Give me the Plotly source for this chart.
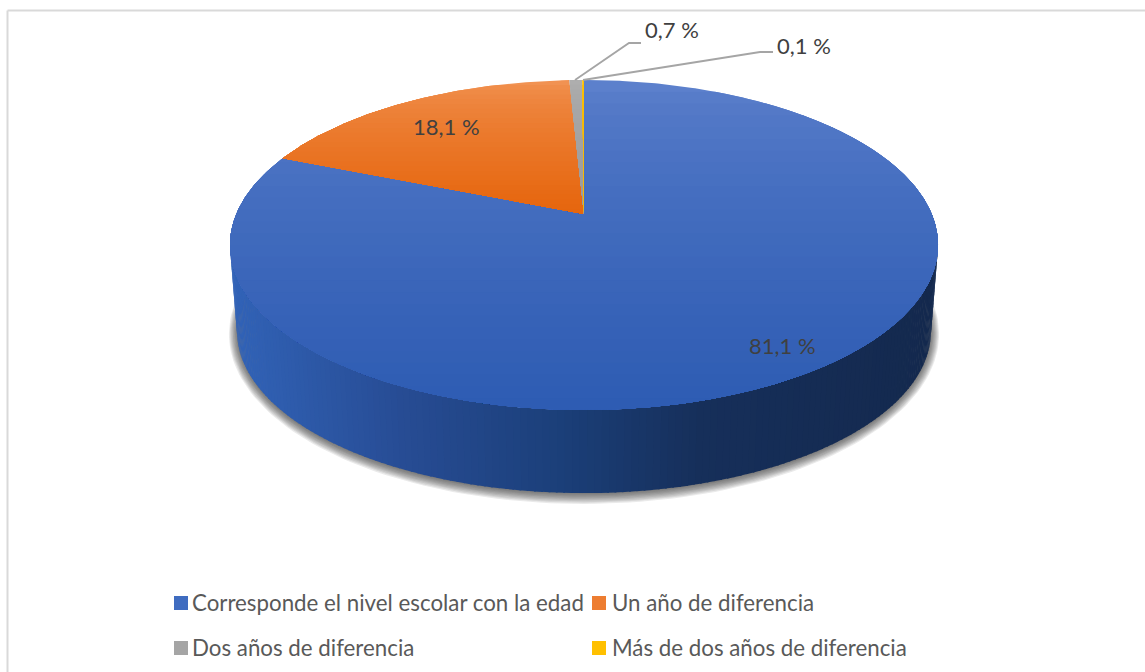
import math
import plotly.graph_objects as go

# ---- data ----
categories = ["Corresponde el nivel escolar con la edad", "Un año de diferencia",
              "Dos años de diferencia", "Más de dos años de diferencia"]
values = [81.1, 18.1, 0.7, 0.1]
top_colors = [(0x5C, 0x80, 0xCC), (0xF1, 0x92, 0x52), (0xAE, 0xAE, 0xAE), (0xFF, 0xC0, 0x00)]
bot_colors = [(0x2E, 0x5C, 0xB3), (0xE6, 0x66, 0x0E), (0x9A, 0x9A, 0x9A), (0xF5, 0xB8, 0x00)]
label_xy = [(782, 345), (446, 126), (672, 29), (804, 45)]
legend_xy = [(174, 603), (592, 603), (174, 648), (592, 648)]
legend_text_x = [190, 610, 190, 610]
legend_colors = ["#3F6CC0", "#ED7D31", "#A5A5A5", "#FFC000"]

# ---- projection of the pie disc to the page ----
CX, CY = 584.0, 214.0
A, B, K = 159.2, 347.7, 0.1878
DEPTH, BASE_S = 87.0, 0.98


def proj(theta, s=1.0, dy=0.0, t=0.0):
    u, v = math.sin(theta), math.cos(theta)
    d = 1 + K * v
    return CX + (B * s + t) * u / d, CY + dy - (A * s + t) * v / d


def clip_below(poly, y0):
    out = []
    n = len(poly)
    for i in range(n):
        p, q = poly[i], poly[(i + 1) % n]
        pin, qin = p[1] >= y0, q[1] >= y0
        if pin:
            out.append(p)
        if pin != qin:
            f = (y0 - p[1]) / (q[1] - p[1])
            out.append((p[0] + f * (q[0] - p[0]), y0))
    return out


def mix(c1, c2, f):
    return "rgb(%d,%d,%d)" % tuple(round(a + (b - a) * f) for a, b in zip(c1, c2))


def poly_trace(pts, color, opacity=1.0):
    xs = [p[0] for p in pts] + [pts[0][0]]
    ys = [p[1] for p in pts] + [pts[0][1]]
    return go.Scatter(x=xs, y=ys, mode="lines", fill="toself", fillcolor=color,
                      line=dict(width=0), opacity=opacity, hoverinfo="skip", showlegend=False)


fig = go.Figure()
total = sum(values)
two_pi = 2 * math.pi

# soft shadow under the base
for i in range(9):
    t = 8 - i
    pts = [proj(two_pi * j / 240, BASE_S, DEPTH + 1, t) for j in range(240)]
    fig.add_trace(poly_trace(pts, "#303030", 0.1))

# side wall, coloured across the page
side_stops = [(237, (0x31, 0x62, 0xB6)), (400, (0x27, 0x4C, 0x94)), (560, (0x1B, 0x3F, 0x79)),
              (700, (0x16, 0x2F, 0x5A)), (932, (0x14, 0x29, 0x4E))]


def side_color(x):
    for (x0, c0), (x1, c1) in zip(side_stops, side_stops[1:]):
        if x <= x1:
            return mix(c0, c1, max(0.0, (x - x0) / (x1 - x0)))
    return mix(side_stops[-1][1], side_stops[-1][1], 0)


start = 0.0
for val in values:
    end = start + val / total * two_pi
    n = max(2, int((end - start) / two_pi * 360))
    for j in range(n):
        a0 = start + (end - start) * j / n
        a1 = start + (end - start) * (j + 1.25) / n
        a1 = min(a1, end)
        if math.cos((a0 + a1) / 2) > 0.05:
            continue
        quad = [proj(a0), proj(a1), proj(a1, BASE_S, DEPTH), proj(a0, BASE_S, DEPTH)]
        fig.add_trace(poly_trace(quad, side_color((quad[0][0] + quad[1][0]) / 2)))
    start = end

# top face, one stack of clipped bands per slice
BANDS = 28
start = 0.0
for val, c1, c2 in zip(values, top_colors, bot_colors):
    end = start + val / total * two_pi
    n = max(6, int((end - start) / two_pi * 720))
    wedge = [(CX, CY)] + [proj(start + (end - start) * j / n) for j in range(n + 1)]
    ymin = min(p[1] for p in wedge)
    ymax = max(p[1] for p in wedge)
    for b in range(BANDS):
        y0 = ymin + (ymax - ymin) * b / BANDS
        part = wedge if b == 0 else clip_below(wedge, y0)
        if len(part) >= 3:
            fig.add_trace(poly_trace(part, mix(c1, c2, (b / (BANDS - 1)) ** 0.65)))
    start = end

# leader lines
LEADER = "#A5A5A5"
for lx, ly in [((575, 629, 641), (80, 43, 43)), ((583, 760, 773), (80, 52, 52))]:
    fig.add_trace(go.Scatter(x=lx, y=ly, mode="lines", line=dict(color=LEADER, width=1.8),
                             hoverinfo="skip", showlegend=False))

# value labels
FONT = "Lato, 'Open Sans', sans-serif"
for val, (x, y) in zip(values, label_xy):
    fig.add_annotation(x=x, y=y, text=f"{val:.1f} %".replace(".", ","), showarrow=False,
                       font=dict(family=FONT, size=22, color="#404040"), xanchor="center", yanchor="middle")

# legend
shapes = []
for name, (x, y), tx, color in zip(categories, legend_xy, legend_text_x, legend_colors):
    shapes.append(dict(type="rect", xref="x", yref="y", x0=x, x1=x + 14, y0=y - 7, y1=y + 7,
                       fillcolor=color, line=dict(width=0)))
    fig.add_annotation(x=tx, y=y - 1, text=name, showarrow=False,
                       font=dict(family=FONT, size=22.3, color="#595959"), xanchor="left", yanchor="middle")

# chart frame
FRAME = "#D9D9D9"
shapes.append(dict(type="line", xref="x", yref="y", x0=7.5, x1=7.5, y0=10.5, y1=672, line=dict(color=FRAME, width=2)))
shapes.append(dict(type="line", xref="x", yref="y", x0=7.5, x1=1145, y0=10.5, y1=10.5, line=dict(color=FRAME, width=2)))

fig.update_layout(
    width=1145, height=672, margin=dict(l=0, r=0, t=0, b=0, pad=0),
    paper_bgcolor="white", plot_bgcolor="white", showlegend=False, shapes=shapes,
    xaxis=dict(range=[0, 1145], visible=False, fixedrange=True),
    yaxis=dict(range=[672, 0], visible=False, fixedrange=True),
)
fig.write_html("out.html", config=dict(displayModeBar=False),
               post_script="document.body.style.margin='0';document.body.style.overflow='hidden';")
